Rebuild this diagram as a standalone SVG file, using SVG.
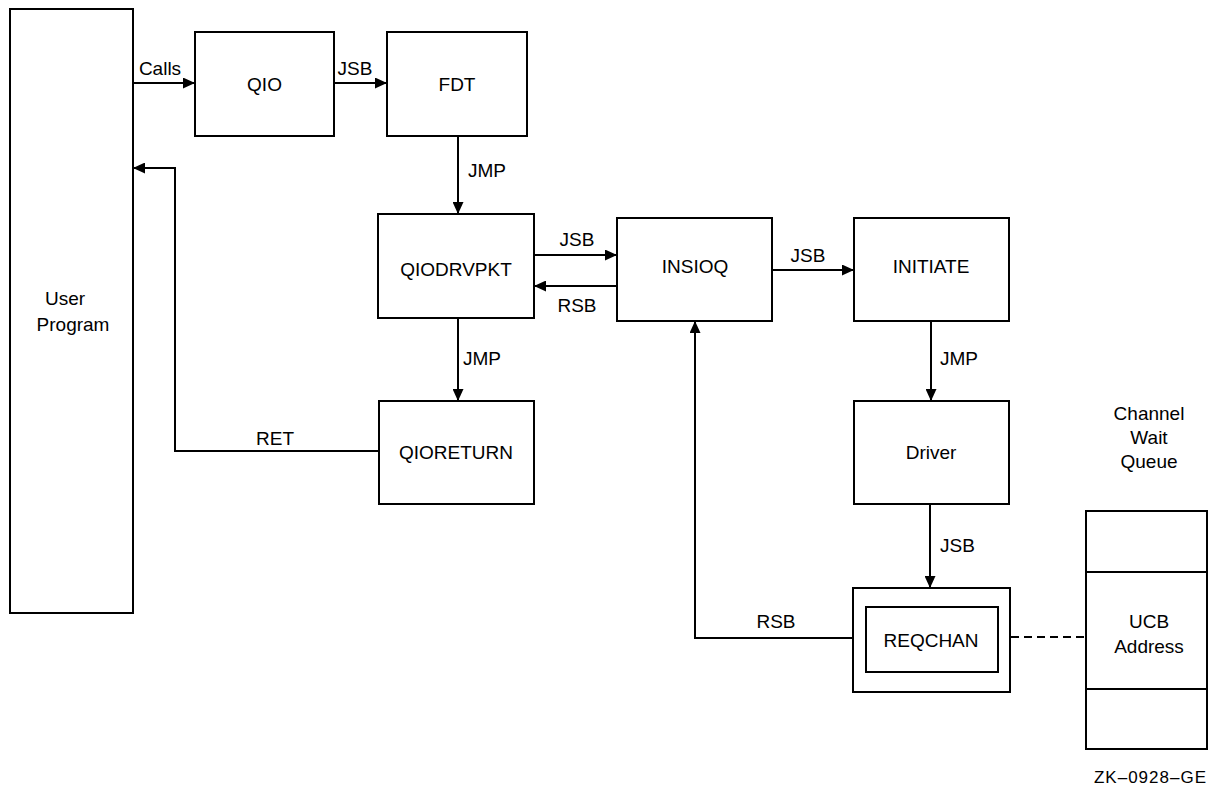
<svg xmlns="http://www.w3.org/2000/svg" width="1209" height="787" viewBox="0 0 1209 787">
<style>
.box{fill:#fff;stroke:#000;stroke-width:2}
.ln{fill:none;stroke:#000;stroke-width:2}
.arr{marker-end:url(#ah)}
.dash{fill:none;stroke:#000;stroke-width:2;stroke-dasharray:8 5}
text{font-family:"Liberation Sans",Arial,sans-serif;font-size:19px;fill:#000}
.c{text-anchor:middle}
</style>
<defs>
<marker id="ah" markerUnits="userSpaceOnUse" markerWidth="12" markerHeight="11" refX="12" refY="5.5" orient="auto">
<path d="M0,0 L12,5.5 L0,11 z" fill="#000"/>
</marker>
</defs>
<rect width="1209" height="787" fill="#fff"/>
<g id="connectors">
<path class="ln arr" d="M133 83 H195"/>
<path class="ln arr" d="M334 83 H387"/>
<path class="ln arr" d="M458 136 V214"/>
<path class="ln arr" d="M534 255 H617"/>
<path class="ln arr" d="M617 286 H534"/>
<path class="ln arr" d="M458 318 V401"/>
<path class="ln arr" d="M379 451 H175 V168 H133"/>
<path class="ln arr" d="M772 270 H854"/>
<path class="ln arr" d="M931 321 V401"/>
<path class="ln arr" d="M930 504 V588"/>
<path class="ln arr" d="M853 638 H695 V321"/>
<path class="dash" d="M998 637 H1086"/>
<text x="160" y="75" class="c">Calls</text>
<text x="355" y="75" class="c">JSB</text>
<text x="468" y="177">JMP</text>
<text x="577" y="246" class="c">JSB</text>
<text x="577" y="312" class="c">RSB</text>
<text x="463" y="365">JMP</text>
<text x="275" y="445" class="c">RET</text>
<text x="808" y="262" class="c">JSB</text>
<text x="940" y="365">JMP</text>
<text x="940" y="552">JSB</text>
<text x="776" y="628" class="c">RSB</text>
</g>
<g id="user-program">
<rect class="box" x="10" y="9" width="123" height="604"/>
<text x="65" y="305" class="c">User</text>
<text x="73" y="331" class="c">Program</text>
</g>
<g id="qio">
<rect class="box" x="195" y="32" width="139" height="104"/>
<text x="264.5" y="91" class="c">QIO</text>
</g>
<g id="fdt">
<rect class="box" x="387" y="32" width="140" height="104"/>
<text x="457" y="91" class="c">FDT</text>
</g>
<g id="qiodrvpkt">
<rect class="box" x="378" y="214" width="156" height="104"/>
<text x="456" y="276" class="c">QIODRVPKT</text>
</g>
<g id="insioq">
<rect class="box" x="617" y="218" width="155" height="103"/>
<text x="695" y="273" class="c">INSIOQ</text>
</g>
<g id="initiate">
<rect class="box" x="854" y="218" width="155" height="103"/>
<text x="931" y="273" class="c">INITIATE</text>
</g>
<g id="qioreturn">
<rect class="box" x="379" y="401" width="155" height="103"/>
<text x="456" y="459" class="c">QIORETURN</text>
</g>
<g id="driver">
<rect class="box" x="854" y="401" width="155" height="103"/>
<text x="931" y="459" class="c">Driver</text>
</g>
<g id="reqchan">
<rect class="box" x="853" y="588" width="157" height="104"/>
<rect class="box" x="866" y="607" width="132" height="65"/>
<text x="931" y="647" class="c">REQCHAN</text>
</g>
<g id="channel-wait-queue">
<text x="1149" y="420" class="c">Channel</text>
<text x="1149" y="444" class="c">Wait</text>
<text x="1149" y="468" class="c">Queue</text>
<rect class="box" x="1086" y="511" width="121" height="238"/>
<line class="ln" x1="1086" y1="572" x2="1207" y2="572"/>
<line class="ln" x1="1086" y1="689" x2="1207" y2="689"/>
<text x="1149" y="628" class="c">UCB</text>
<text x="1149" y="653" class="c">Address</text>
</g>
<text x="1207" y="783" style="text-anchor:end;font-size:17px;letter-spacing:1px">ZK–0928–GE</text>
</svg>
